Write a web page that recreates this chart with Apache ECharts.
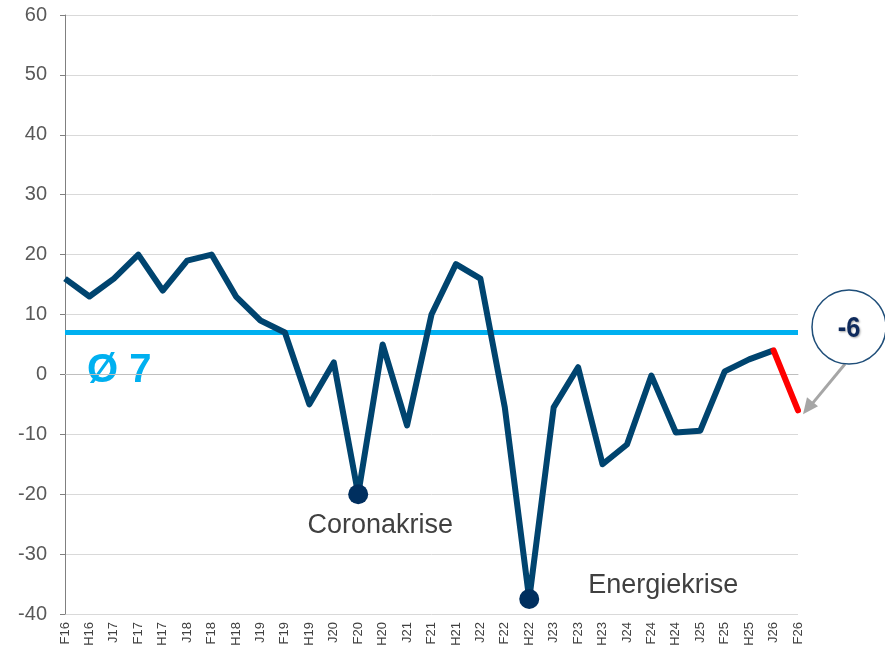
<!DOCTYPE html>
<html>
<head>
<meta charset="utf-8">
<script src="https://cdn.jsdelivr.net/npm/echarts@6/dist/echarts.min.js"></script>
<style>
  html, body { margin: 0; padding: 0; background: #fff; }
  #chart { width: 885px; height: 654px; }
</style>
</head>
<body>
<div id="chart"></div>
<script>
// Daten
const categories = ["F16","H16","J17","F17","H17","J18","F18","H18","J19","F19","H19","J20","F20","H20","J21","F21","H21","J22","F22","H22","J23","F23","H23","J24","F24","H24","J25","F25","H25","J26","F26"];
const values = [16,13,16,20,14,19,20,13,9,7,-5,2,-20,5,-8.5,10,18.4,16,-5.5,-37.5,-5.5,1.2,-15,-11.7,-0.2,-9.7,-9.4,0.5,2.5,4,-6];
const average = 7;
const crisisPoints = [["F20", -20, "Coronakrise"], ["H22", -37.5, "Energiekrise"]];
const yTicks = { min: -40, max: 60, interval: 10 };

const navy = "#00446F";
const n = values.length;
const mainData = values.map((v, i) => (i < n - 1 ? v : null));
const lastData = values.map((v, i) => (i >= n - 2 ? v : null));

const chart = echarts.init(document.getElementById("chart"));

const option = {
  animation: false,
  grid: { left: 65, right: 87, top: 15, bottom: 40 },
  xAxis: {
    type: "category",
    data: categories,
    boundaryGap: false,
    axisLine: { lineStyle: { color: "#bfbfbf" } },
    axisTick: { show: false },
    axisLabel: { rotate: 90, color: "#404040", fontSize: 13, fontFamily: "Liberation Sans, Arial", margin: 8, interval: 0 }
  },
  yAxis: {
    type: "value",
    min: yTicks.min,
    max: yTicks.max,
    interval: yTicks.interval,
    axisLine: { show: true, lineStyle: { color: "#808080" } },
    axisTick: { show: true, length: 5, lineStyle: { color: "#808080" } },
    axisLabel: { color: "#595959", fontSize: 20, fontFamily: "Liberation Sans, Arial", margin: 18 },
    splitLine: { lineStyle: { color: "#d9d9d9" } }
  },
  series: [
    {
      type: "line",
      data: mainData,
      symbol: "none",
      lineStyle: { color: navy, width: 6, join: "round" },
      z: 3,
      markLine: {
        silent: true,
        symbol: "none",
        label: { show: false },
        lineStyle: { color: "#00B0F0", width: 5, type: "solid" },
        data: [{ yAxis: average }],
        z: 2
      }
    },
    {
      type: "line",
      data: lastData,
      symbol: "none",
      lineStyle: { color: "#FF0000", width: 6, cap: "round" },
      z: 4
    },
    {
      type: "scatter",
      data: crisisPoints.map(p => ({ value: [p[0], p[1]], name: p[2] })),
      symbolSize: 20,
      itemStyle: { color: "#002F5F", opacity: 1 },
      z: 5,
      label: {
        show: true,
        formatter: p => p.name,
        color: "#404040",
        fontSize: 27,
        fontFamily: "Liberation Sans, Arial",
        position: "bottom",
        distance: 8
      },
      labelLayout: p => (p.dataIndex === 1 ? { dx: 134, dy: -45 } : { dx: 22 })
    }
  ]
};
chart.setOption(option);

// Annotationen: Durchschnitt und Callout
const avgPos = chart.convertToPixel({ gridIndex: 0 }, [categories[0], average]);
const lastPos = chart.convertToPixel({ gridIndex: 0 }, [categories[n - 1], values[n - 1]]);
const cx = 849, cy = 327;
chart.setOption({
  graphic: [
    {
      type: "text",
      left: avgPos[0] + 22,
      top: avgPos[1] + 18,
      style: { text: "Ø " + average, fill: "#00B0F0", font: "bold 40px Liberation Sans, Arial" }
    },
    {
      type: "line",
      shape: { x1: cx - 4, y1: cy + 37, x2: lastPos[0] + 12, y2: lastPos[1] - 4 },
      style: { stroke: "#a6a6a6", lineWidth: 3 }
    },
    {
      type: "polygon",
      shape: { points: [[lastPos[0] + 5, lastPos[1] + 4], [lastPos[0] + 9, lastPos[1] - 13], [lastPos[0] + 20, lastPos[1] - 4]] },
      style: { fill: "#a6a6a6" }
    },
    {
      type: "circle",
      shape: { cx: cx, cy: cy, r: 37 },
      style: { fill: "#fff", stroke: "#1F4E79", lineWidth: 1.5 }
    },
    {
      type: "text",
      x: cx,
      y: cy + 2,
      scaleX: 0.85,
      style: {
        text: String(values[n - 1]),
        fill: "#0E2A5C",
        font: "bold 30px Liberation Sans, Arial",
        align: "center",
        verticalAlign: "middle",
        textShadowColor: "rgba(0,0,0,0.35)",
        textShadowBlur: 2,
        textShadowOffsetX: 1,
        textShadowOffsetY: 1
      }
    }
  ]
});
</script>
</body>
</html>
